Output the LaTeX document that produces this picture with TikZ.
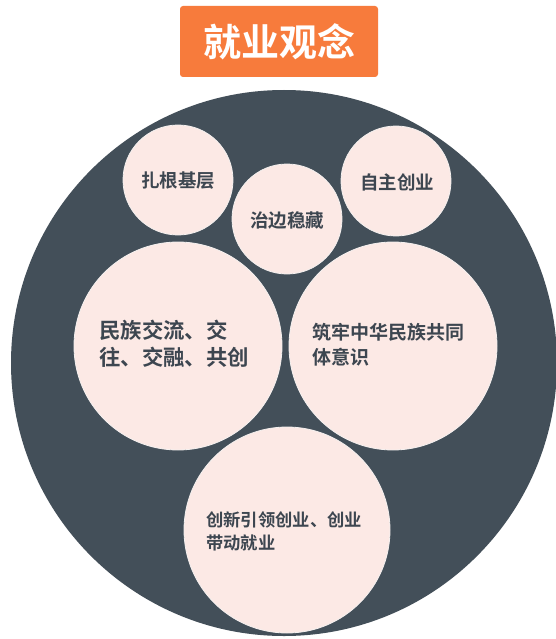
\documentclass[tikz,border=0pt]{standalone}
\usepackage{fontspec}
\setmainfont{Noto Sans CJK SC}[BoldFont={Noto Sans CJK SC Bold}]
\newfontfamily\cjkb{Noto Sans CJK SC Bold}
\definecolor{orangebox}{HTML}{F77B3C}
\definecolor{darkdisc}{HTML}{434F59}
\definecolor{pinkdisc}{HTML}{FCE9E5}
\definecolor{pinkedge}{HTML}{F4F0EF}
\definecolor{txtdark}{HTML}{3D4650}
\tikzset{
  bubble/.style={circle, fill=pinkdisc, draw=pinkedge, line width=0.8pt, inner sep=0pt},
  bubtext/.style={text=txtdark, inner sep=0pt, align=left, font=\cjkb},
}
\begin{document}
\begin{tikzpicture}[x=1pt,y=-1pt]
\useasboundingbox (0,0) rectangle (555,639);
\fill[white] (0,0) rectangle (555,639);
% title
\node[fill=orangebox, rounded corners=3pt, minimum width=198pt, minimum height=71pt, inner sep=0pt,
      text=white, font=\cjkb\fontsize{38}{44}\selectfont] (title) at (279,41.5) {就业观念};
% big disc
\node[circle, fill=darkdisc, minimum size=546pt, inner sep=0pt] (disc) at (284,363) {};
% small bubbles
\node[bubble, minimum size=110pt] (b1) at (178,180) {};
\node[bubble, minimum size=110pt] (b2) at (287,219) {};
\node[bubble, minimum size=110pt] (b3) at (396,181) {};
% large bubbles
\node[bubble, minimum size=208pt] (b4) at (178,346) {};
\node[bubble, minimum size=208pt] (b5) at (393,346) {};
\node[bubble, minimum size=206pt] (b6) at (287,530) {};
% texts
\node[bubtext, font=\cjkb\fontsize{18.5}{22}\selectfont] (t1) at (178,181) {扎根基层};
\node[bubtext, font=\cjkb\fontsize{18.5}{22}\selectfont] (t2) at (287,220) {治边稳藏};
\node[bubtext, font=\cjkb\fontsize{18.5}{22}\selectfont] (t3) at (397,182) {自主创业};
\node[bubtext, anchor=west, font=\cjkb\fontsize{21.4}{27}\selectfont] (t4) at (99,344) {民族交流、交\\往、交融、共创};
\node[bubtext, anchor=west, font=\cjkb\fontsize{19}{25}\selectfont] (t5) at (312,345) {筑牢中华民族共同\\体意识};
\node[bubtext, anchor=west, font=\cjkb\fontsize{17.3}{23}\selectfont] (t6) at (206,531) {创新引领创业、创业\\带动就业};
\end{tikzpicture}
\end{document}
